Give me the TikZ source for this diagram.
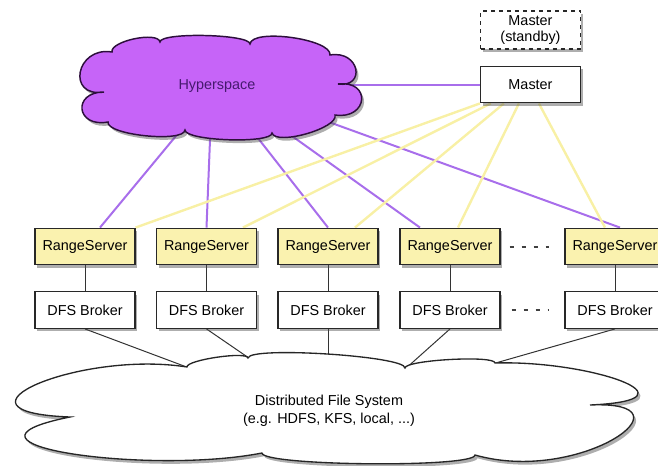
\documentclass[tikz,border=0pt]{standalone}
\usepackage{fontspec}
\setmainfont{Liberation Sans}
\usetikzlibrary{shadows,backgrounds}

\definecolor{hsfill}{RGB}{198,100,248}
\definecolor{hsborder}{RGB}{45,15,60}
\definecolor{hstext}{RGB}{70,25,110}
\definecolor{hsline}{RGB}{168,110,235}
\definecolor{msline}{RGB}{248,240,165}
\definecolor{rsfill}{RGB}{250,242,175}
\definecolor{boxline}{RGB}{40,40,40}

\tikzset{
  every node/.style={font=\fontsize{10.8}{13}\selectfont},
  box/.style={draw=boxline, line width=0.9pt, fill=white, inner sep=0pt,
    minimum width=75pt, minimum height=27.5pt,
    drop shadow={shadow xshift=1.6pt, shadow yshift=-2.2pt, opacity=0.45, fill=black!70}},
  rsbox/.style={box, fill=rsfill},
  hsshape/.style={draw=hsborder, line width=1.1pt, fill=hsfill,
    drop shadow={shadow xshift=1.8pt, shadow yshift=-2.4pt, opacity=0.45, fill=black!70}},
  fsshape/.style={draw=black!85, line width=1pt, fill=white,
    drop shadow={shadow xshift=1.8pt, shadow yshift=-2.4pt, opacity=0.45, fill=black!70}},
  wire/.style={line width=0.75pt, draw=black!80},
  hswire/.style={line width=1.5pt, draw=hsline},
  mswire/.style={line width=1.8pt, draw=msline},
  dots/.style={line width=1.5pt, draw=black!75, dash pattern=on 3pt off 6pt},
}

\begin{document}
\begin{tikzpicture}[x=0.75pt, y=-0.75pt]
\useasboundingbox (0,0) rectangle (658,465);

% Hyperspace
\draw[hsshape] (104,92) .. controls (66,98) and (76,46) .. (112,52)
  .. controls (110,41) and (158,31) .. (160,42)
  .. controls (160,32) and (250,34) .. (250,44)
  .. controls (252,28) and (332,39) .. (330,55)
  .. controls (360,50) and (366,88) .. (338,84)
  .. controls (372,80) and (368,120) .. (335,115)
  .. controls (339,128) and (276,146) .. (272,133)
  .. controls (272,144) and (185,141) .. (185,130)
  .. controls (184,143) and (106,135) .. (108,122)
  .. controls (76,128) and (72,92) .. (104,92) -- cycle;
\node[text=hstext] (hyperspace) at (217,86) {Hyperspace};

% Masters
\node[box, dashed, align=center, minimum height=28.5pt, font=\fontsize{10.8}{12}\selectfont] (standby) at (530.5,30) {Master\\(standby)};
\node[box] (master) at (530.5,84.5) {Master};

% Range servers
\node[rsbox] (rs1) at (85,246.5) {RangeServer};
\node[rsbox] (rs2) at (206.5,246.5) {RangeServer};
\node[rsbox] (rs3) at (328,246.5) {RangeServer};
\node[rsbox] (rs4) at (450,246.5) {RangeServer};
\node[rsbox] (rs5) at (615,246.5) {RangeServer};

% DFS brokers
\node[box] (dfs1) at (85,310) {DFS Broker};
\node[box] (dfs2) at (206.5,310) {DFS Broker};
\node[box] (dfs3) at (328,310) {DFS Broker};
\node[box] (dfs4) at (450,310) {DFS Broker};
\node[box] (dfs5) at (615,310) {DFS Broker};

% File system
\draw[fsshape] (187,367) .. controls (186,360) and (247,351) .. (248,358)
  .. controls (249,346) and (406,356) .. (405,368)
  .. controls (405,360) and (495,355) .. (495,363)
  .. controls (590,360) and (705,400) .. (590,405)
  .. controls (700,400) and (580,485) .. (475,455)
  .. controls (475,468) and (262,466) .. (262,453)
  .. controls (150,475) and (-70,445) .. (70,417)
  .. controls (-65,412) and (80,350) .. (187,367) -- cycle;
\node[align=center, font=\fontsize{10.8}{13.5}\selectfont] (fs) at (329,411) {Distributed File System\\(e.g. HDFS, KFS, local, ...)};

% Elision dots
\draw[dots] ([shift={(9,0)}]rs4.east) -- ([shift={(-15,0)}]rs5.west);
\draw[dots] ([shift={(11,0)}]dfs4.east) -- ([shift={(-15,0)}]dfs5.west);

% Connections
\begin{scope}[on background layer]
% range servers to brokers to file system
\draw[wire] (rs1.south) -- (dfs1.north);
\draw[wire] (rs2.south) -- (dfs2.north);
\draw[wire] (rs3.south) -- (dfs3.north);
\draw[wire] (rs4.south) -- (dfs4.north);
\draw[wire] (rs5.south) -- (dfs5.north);
\draw[wire] (dfs1.south) -- ([shift={(-105,-30)}]fs.center);
\draw[wire] (dfs2.south) -- ([shift={(-48,-31)}]fs.center);
\draw[wire] (dfs3.south) -- (dfs3.south |- fs.center);
\draw[wire] (dfs4.south) -- ([shift={(47,-16)}]fs.center);
\draw[wire] (dfs5.south) -- ([shift={(128,-37)}]fs.center);
% hyperspace
\draw[hswire] (master.west) -- (master.west -| hyperspace.center);
\draw[hswire] ([shift={(-22,27)}]hyperspace.center) -- ([shift={(15,0)}]rs1.north);
\draw[hswire] ([shift={(-6,29)}]hyperspace.center) -- (rs2.north);
\draw[hswire] ([shift={(26,33)}]hyperspace.center) -- (rs3.north);
\draw[hswire] ([shift={(47,30)}]hyperspace.center) -- ([shift={(-30,0)}]rs4.north);
\draw[hswire] ([shift={(87,27)}]hyperspace.center) -- ([shift={(5,0)}]rs5.north);
% master
\draw[mswire] (master.south west) -- (rs1.north east);
\draw[mswire] ([shift={(11,0)}]master.south west) -- ([shift={(36.5,0)}]rs2.north);
\draw[mswire] ([shift={(24,0)}]master.south west) -- ([shift={(27,0)}]rs3.north);
\draw[mswire] ([shift={(39,0)}]master.south west) -- ([shift={(8,0)}]rs4.north);
\draw[mswire] ([shift={(59,0)}]master.south west) -- ([shift={(-10,0)}]rs5.north);
\end{scope}

\end{tikzpicture}
\end{document}
